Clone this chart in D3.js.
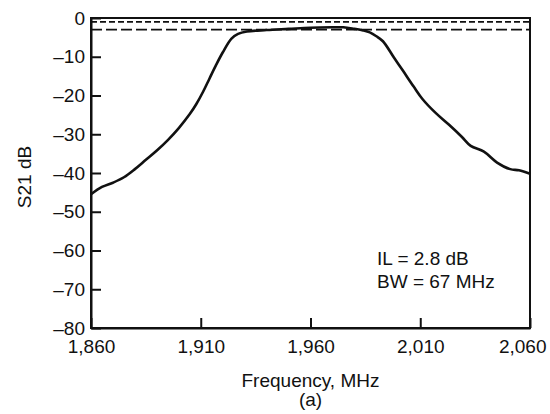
<!DOCTYPE html>
<html>
<head>
<meta charset="utf-8">
<script src="https://cdn.jsdelivr.net/npm/d3@7"></script>
<style>
  body { margin: 0; background: #fff; }
  svg { font-family: "Liberation Sans", Arial, sans-serif; }
</style>
</head>
<body>
<svg id="chart" width="550" height="414"></svg>
<script>
// frequency (MHz) and measured S21 (dB)
const freq = [1860, 1865, 1870, 1875, 1880, 1885, 1890, 1895, 1900, 1905, 1908,
              1911, 1914, 1917, 1920, 1924, 1927, 1931, 1940, 1950, 1960, 1970,
              1975, 1980, 1984, 1987, 1990, 1993, 1998, 2002, 2007, 2011,
              2017, 2023, 2029, 2033, 2039, 2045, 2051, 2055, 2060];
const s21  = [-45.5, -43.6, -42.5, -41.1, -39.0, -36.6, -34.2, -31.5, -28.4, -24.8, -22.2,
              -19.1, -15.6, -12.1, -8.9, -5.3, -4.1, -3.5, -3.1, -2.8, -2.5, -2.4,
              -2.4, -2.8, -3.2, -3.7, -4.7, -6.0, -10.2, -13.5, -17.7, -20.9,
              -24.5, -27.5, -30.7, -33.0, -34.5, -37.3, -39.0, -39.3, -40.2];
const refLevels = [-1, -3];           // short dashed / long dashed reference lines
const xTicks = [1860, 1910, 1960, 2010, 2060];
const yTicks = [0, -10, -20, -30, -40, -50, -60, -70, -80];
const notes = ["IL = 2.8 dB", "BW = 67 MHz"];

const svg = d3.select("#chart");
const margin = {left: 91, right: 20, top: 18, bottom: 86};
const W = 550, H = 414;

const x = d3.scaleLinear().domain([1860, 2060]).range([margin.left, W - margin.right]);
const y = d3.scaleLinear().domain([-80, 0]).range([H - margin.bottom, margin.top]);

// frame
svg.append("rect")
  .attr("x", x(1860)).attr("y", y(0))
  .attr("width", x(2060) - x(1860)).attr("height", y(-80) - y(0))
  .attr("fill", "none").attr("stroke", "#111").attr("stroke-width", 2);

// axes
const xAxis = svg.append("g")
  .attr("transform", "translate(0," + y(-80) + ")")
  .call(d3.axisBottom(x).tickValues(xTicks).tickSizeInner(-10).tickSizeOuter(0)
        .tickPadding(12).tickFormat(d3.format(",")));
const yAxis = svg.append("g")
  .attr("transform", "translate(" + x(1860) + ",0)")
  .call(d3.axisLeft(y).tickValues(yTicks).tickSizeInner(-10).tickSizeOuter(0)
        .tickPadding(6).tickFormat(d => d < 0 ? "\u2013" + Math.abs(d) : d));

[xAxis, yAxis].forEach(a => {
  a.select(".domain").attr("stroke", "#111").attr("stroke-width", 2);
  a.selectAll(".tick line").attr("stroke", "#111").attr("stroke-width", 2);
  a.selectAll(".tick text").attr("fill", "#111").attr("font-size", 19)
    .attr("font-family", "\"Liberation Sans\", Arial, sans-serif");
});
// keep the last label inside the picture
xAxis.selectAll(".tick text").filter(d => d === 2060)
  .attr("text-anchor", "end").attr("x", 16);

// reference lines
svg.append("g").selectAll("line")
  .data(refLevels)
  .join("line")
  .attr("x1", x(1860)).attr("x2", x(2060))
  .attr("y1", d => y(d)).attr("y2", d => y(d))
  .attr("stroke", "#111").attr("stroke-width", 1.6)
  .attr("stroke-dasharray", (d, i) => i === 0 ? "6,3" : "11,4");

// response curve
const line = d3.line()
  .x((d, i) => x(freq[i]))
  .y(d => y(d))
  .curve(d3.curveCatmullRom.alpha(0.5));
svg.append("path")
  .datum(s21)
  .attr("d", line)
  .attr("fill", "none")
  .attr("stroke", "#111")
  .attr("stroke-width", 2.6)
  .attr("stroke-linejoin", "round");

// annotation
svg.append("g").selectAll("text")
  .data(notes)
  .join("text")
  .attr("x", 377)
  .attr("y", (d, i) => 265 + i * 23)
  .attr("font-size", 19)
  .attr("fill", "#111")
  .text(d => d);

// axis titles
svg.append("text")
  .attr("transform", "translate(31," + ((y(0) + y(-80)) / 2 + 4) + ") rotate(-90)")
  .attr("text-anchor", "middle")
  .attr("font-size", 19)
  .attr("fill", "#111")
  .text("S21  dB");
svg.append("text")
  .attr("x", (x(1860) + x(2060)) / 2)
  .attr("y", 387)
  .attr("text-anchor", "middle")
  .attr("font-size", 19)
  .attr("fill", "#111")
  .text("Frequency, MHz");
svg.append("text")
  .attr("x", (x(1860) + x(2060)) / 2)
  .attr("y", 406)
  .attr("text-anchor", "middle")
  .attr("font-size", 19)
  .attr("fill", "#111")
  .text("(a)");
</script>
</body>
</html>
